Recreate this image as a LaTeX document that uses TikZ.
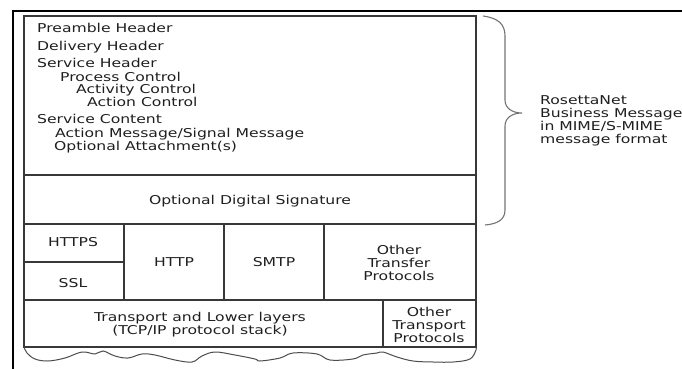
\documentclass[tikz,border=0pt]{standalone}
\usepackage{fontspec}
\newfontfamily\vfont[FakeStretch=1.28]{DejaVu Sans}
\begin{document}
\begin{tikzpicture}[x=1pt,y=-1pt,
  boxline/.style={draw=black!78,line width=1.3pt},
  frameline/.style={draw=black,line width=2.2pt},
  txt/.style={inner sep=0pt,font={\vfont\fontsize{12.2}{13}\selectfont},text=black!88,
    text height=9pt,text depth=2.5pt,yshift=-1pt},
  ctxt/.style={txt,align=center,text height=,text depth=}]
\useasboundingbox (0,0) rectangle (682,369);
% outer frame
\draw[frameline] (13,369) -- (13,11) -- (682,11);
% message block and signature
\draw[boxline] (24,16) rectangle (476,224);
\draw[boxline] (24,175) -- (476,175);
% transfer protocol row
\draw[boxline] (24,224) rectangle (476,300);
\draw[boxline] (124,224) -- (124,300);
\draw[boxline] (224,224) -- (224,300);
\draw[boxline] (324,224) -- (324,300);
\draw[boxline] (24,262) -- (124,262);
% transport row
\draw[boxline] (24,300) rectangle (476,347);
\draw[boxline] (383,300) -- (383,347);
% torn lower edge
\draw[draw=black!70,line width=1pt] plot[smooth,tension=0.6] coordinates {
  (24,347) (27,353) (35,359) (48,361) (65,358) (82,352) (95,354) (103,351)
  (115,356) (128,358) (142,354) (155,355) (175,360) (192,362) (202,356)
  (215,352) (235,355) (255,359) (260,361) (280,358) (293,353) (317,354)
  (330,360) (353,359) (363,355) (377,353) (383,352) (397,357) (413,361)
  (433,362) (453,362) (470,359) (476,350) (476,347)};
% brace
\draw[draw=black!55,line width=1.1pt] (483,16) .. controls (498,18) and (505,24) .. (505,36)
  -- (505,100) .. controls (505,108) and (512,113) .. (522,113)
  .. controls (512,113) and (505,118) .. (505,126)
  -- (505,210) .. controls (505,220) and (497,224) .. (485,225);
% header texts
\node[txt,anchor=west] (pre) at (37,28) {Preamble Header};
\node[txt,anchor=west] (del) at (37,46) {Delivery Header};
\node[txt,anchor=west] (sh) at (37,63) {Service Header};
\node[txt,anchor=west] (pc) at (60,77) {Process Control};
\node[txt,anchor=west] (ac) at (76,89) {Activity Control};
\node[txt,anchor=west] (acc) at (87,102) {Action Control};
\node[txt,anchor=west] (sc) at (37,119) {Service Content};
\node[txt,anchor=west] (am) at (55,133) {Action Message/Signal Message};
\node[txt,anchor=west] (oa) at (54,146) {Optional Attachment(s)};
\node[txt] (sig) at (250,200) {Optional Digital Signature};
% protocol texts
\node[txt] (https) at (73,242) {HTTPS};
\node[txt] (ssl) at (73,283) {SSL};
\node[txt] (http) at (174,262) {HTTP};
\node[txt] (smtp) at (274,262) {SMTP};
\node[ctxt] (otp) at (399,262) {Other\\Transfer\\Protocols};
\node[ctxt] (tl) at (200,324) {Transport and Lower layers\\(TCP/IP protocol stack)};
\node[ctxt] (otr) at (429,324) {Other\\Transport\\Protocols};
% brace label
\node[ctxt,align=left,anchor=west] (rn) at (540,119.5) {RosettaNet\\Business Message\\in MIME/S-MIME\\message format};
\end{tikzpicture}
\end{document}
